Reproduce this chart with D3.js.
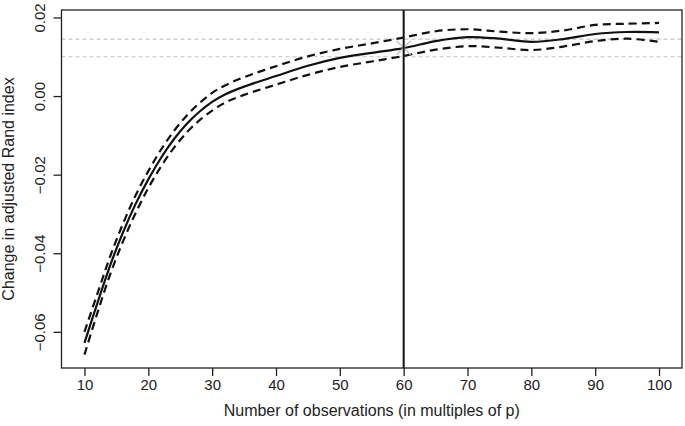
<!DOCTYPE html>
<html>
<head>
<meta charset="utf-8">
<script src="https://cdn.jsdelivr.net/npm/d3@7"></script>
<style>
  body { margin: 0; background: #fff; }
  text { font-family: "Liberation Sans", Arial, sans-serif; fill: #222; }
</style>
</head>
<body>
<div id="chart"></div>
<script>
var w = 685
var h = 426

// observations in multiples of p
var xs = [10, 12, 14, 16, 18, 20, 22, 24, 26, 28, 30, 32, 35, 40, 45, 50, 55, 60, 65, 70, 75, 80, 85, 90, 95, 100]
// mean change in adjusted Rand index
var mean = [-0.0628, -0.0528, -0.0432, -0.0348, -0.0275, -0.0212, -0.0157, -0.0110, -0.0071, -0.0040, -0.0015, 0.0004, 0.0024, 0.0051, 0.0077, 0.0097, 0.0110, 0.0122, 0.0140, 0.0150, 0.0146, 0.0138, 0.0145, 0.0158, 0.0163, 0.0162]
// upper band
var upper = [-0.0600, -0.0504, -0.0409, -0.0326, -0.0253, -0.0191, -0.0136, -0.0089, -0.0050, -0.0018, 0.0008, 0.0027, 0.0048, 0.0076, 0.0101, 0.0120, 0.0134, 0.0149, 0.0165, 0.0170, 0.0164, 0.0160, 0.0167, 0.0181, 0.0184, 0.0186]
// lower band
var lower = [-0.0658, -0.0553, -0.0455, -0.0371, -0.0298, -0.0234, -0.0179, -0.0132, -0.0093, -0.0062, -0.0037, -0.0017, 0.0003, 0.0029, 0.0054, 0.0074, 0.0088, 0.0102, 0.0118, 0.0127, 0.0123, 0.0117, 0.0126, 0.0140, 0.0146, 0.0138]

var xTicks = [10, 20, 30, 40, 50, 60, 70, 80, 90, 100]
var yTicks = [-0.06, -0.04, -0.02, 0.00, 0.02]
var refLines = [0.0145, 0.0100]   // grey dashed reference levels
var cutoff = [60]                 // vertical line
var marker = [[60, 0.0123]]       // grey cross

var pLeft = 61.5, pRight = 682, pTop = 10, pBottom = 368

var x = d3.scaleLinear().domain([6.4, 103.6]).range([pLeft, pRight])
var y = d3.scaleLinear().domain([-0.0692, 0.0219]).range([pBottom, pTop])

var svg = d3.select("#chart").append("svg").attr("width", w).attr("height", h)

// reference lines
svg.selectAll("line.ref")
    .data(refLines)
    .enter()
    .append("line")
    .attr("x1", pLeft).attr("x2", pRight)
    .attr("y1", function(d){ return y(d) })
    .attr("y2", function(d){ return y(d) })
    .attr("stroke", "#c4c4c4")
    .attr("stroke-width", 1.2)
    .attr("stroke-dasharray", "4,3")

// curves
var line = d3.line()
    .x(function(d){ return x(d[0]) })
    .y(function(d){ return y(d[1]) })
    .curve(d3.curveCatmullRom)

function pairs(vals){
    return xs.map(function(v, i){ return [v, vals[i]] })
}

svg.append("path").datum(pairs(upper))
    .attr("d", line).attr("fill", "none")
    .attr("stroke", "#111").attr("stroke-width", 2.2)
    .attr("stroke-dasharray", "8,5")
svg.append("path").datum(pairs(lower))
    .attr("d", line).attr("fill", "none")
    .attr("stroke", "#111").attr("stroke-width", 2.2)
    .attr("stroke-dasharray", "8,5")
svg.append("path").datum(pairs(mean))
    .attr("d", line).attr("fill", "none")
    .attr("stroke", "#111").attr("stroke-width", 2.2)

// grey cross
marker.forEach(function(m){
    var cx = x(m[0]), cy = y(m[1]), s = 7
    svg.append("path")
        .attr("d", "M" + (cx - s) + "," + (cy - s) + "L" + (cx + s) + "," + (cy + s) +
                   "M" + (cx - s) + "," + (cy + s) + "L" + (cx + s) + "," + (cy - s))
        .attr("stroke", "#c8c8c8").attr("stroke-width", 1.5)
})

// vertical line
svg.selectAll("line.cut")
    .data(cutoff)
    .enter()
    .append("line")
    .attr("x1", function(d){ return x(d) })
    .attr("x2", function(d){ return x(d) })
    .attr("y1", pTop).attr("y2", pBottom)
    .attr("stroke", "#111").attr("stroke-width", 2)

// box
svg.append("rect")
    .attr("x", pLeft).attr("y", pTop)
    .attr("width", pRight - pLeft).attr("height", pBottom - pTop)
    .attr("fill", "none").attr("stroke", "#222").attr("stroke-width", 1.3)

// x axis
var xAxis = svg.append("g")
    .attr("transform", "translate(0," + pBottom + ")")
    .call(d3.axisBottom(x).tickValues(xTicks).tickSize(8).tickPadding(3).tickFormat(d3.format("d")))
xAxis.select(".domain").remove()
xAxis.selectAll("line").attr("stroke", "#222").attr("stroke-width", 1.3)
xAxis.selectAll("text").style("font-size", "15px").attr("fill", "#222")

// y axis
var yAxis = svg.append("g")
    .attr("transform", "translate(" + pLeft + ",0)")
    .call(d3.axisLeft(y).tickValues(yTicks).tickSize(8).tickFormat(function(d){ return d3.format(".2f")(d).replace("-", "\u2212") }))
yAxis.select(".domain").remove()
yAxis.selectAll("line").attr("stroke", "#222").attr("stroke-width", 1.3)
yAxis.selectAll("text")
    .style("font-size", "15px").attr("fill", "#222")
    .attr("x", null)
    .attr("text-anchor", "middle")
    .attr("transform", "translate(-22,0) rotate(-90)")
    .attr("dy", "0.35em")

// axis titles
svg.append("text")
    .text("Number of observations (in multiples of p)")
    .attr("x", (pLeft + pRight) / 2)
    .attr("y", 416)
    .attr("text-anchor", "middle")
    .style("font-size", "16px")

svg.append("text")
    .text("Change in adjusted Rand index")
    .attr("transform", "translate(14," + ((pTop + pBottom) / 2) + ") rotate(-90)")
    .attr("text-anchor", "middle")
    .style("font-size", "16px")
</script>
</body>
</html>
